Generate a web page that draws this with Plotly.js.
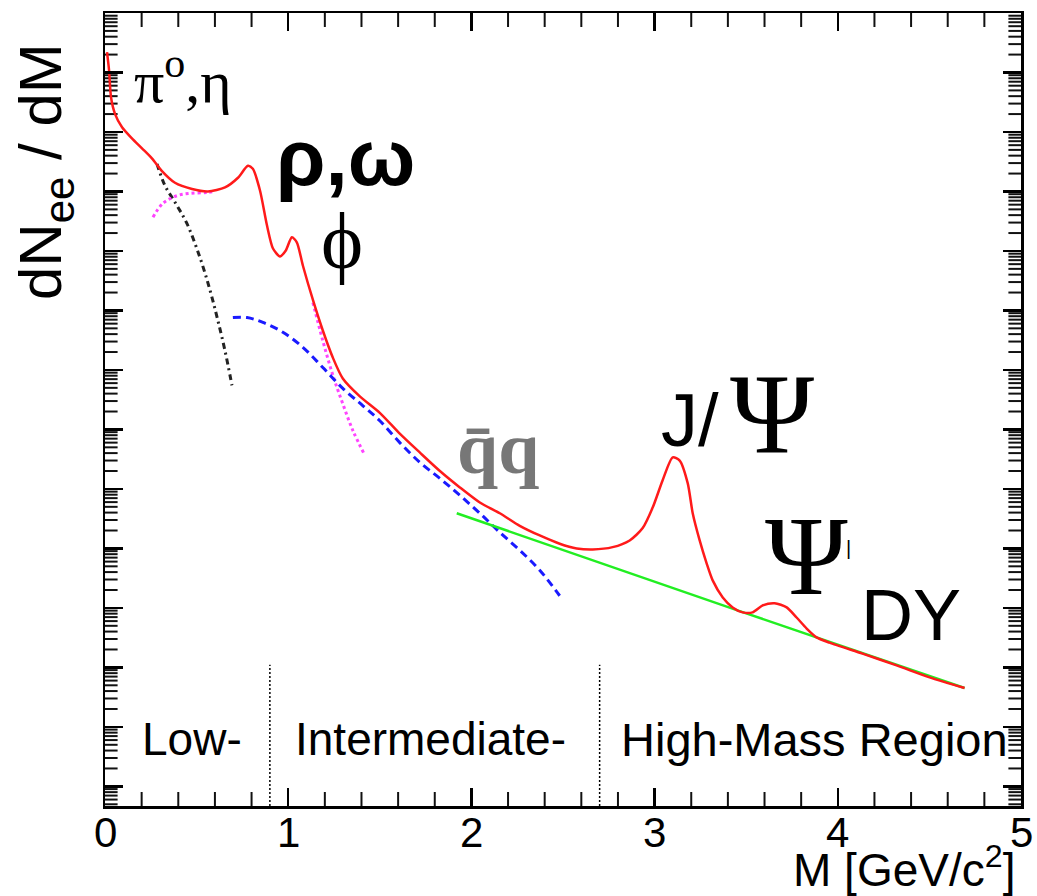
<!DOCTYPE html>
<html>
<head>
<meta charset="utf-8">
<script src="https://cdn.plot.ly/plotly-3.0.1.min.js"></script>
<style>html,body{margin:0;padding:0;background:#fff;}#chart{width:1037px;height:896px;}</style>
</head>
<body>
<div id="chart"></div>
<script>
// ---- data ----
const redM = [0.011,0.022,0.033,0.055,0.093,0.147,0.202,0.256,0.311,0.382,0.475,0.562,0.655,0.726,0.780,0.807,0.846,0.884,0.917,0.955,0.987,1.020,1.047,1.080,1.135,1.189,1.244,1.298,1.391,1.500,1.609,1.718,1.828,1.937,2.046,2.155,2.264,2.373,2.482,2.575,2.662,2.771,2.864,2.935,2.990,3.044,3.099,3.137,3.181,3.208,3.246,3.284,3.317,3.372,3.426,3.481,3.535,3.590,3.655,3.721,3.775,3.830,3.884,3.955,4.135,4.321,4.501,4.692];
const redY = [2.2e12,1.1e12,3.8e11,2.0e11,1.2e11,7.8e10,5.3e10,3.6e10,2.2e10,1.4e10,1.1e10,1.0e10,1.17e10,1.7e10,2.7e10,2.4e10,1.04e10,2.7e9,1.1e9,8.1e8,1.02e9,1.7e9,1.4e9,5.7e8,1.5e8,4.6e7,1.6e7,7.2e6,3.6e6,1.9e6,8.5e5,4.1e5,2.0e5,1.06e5,5.9e4,3.9e4,2.4e4,1.65e4,1.2e4,1.0e4,9.6e3,1.05e4,1.36e4,2.2e4,4.9e4,1.4e5,3.4e5,3.0e5,1.24e5,3.9e4,1.36e4,5.6e3,2.9e3,1.5e3,1.02e3,8.4e2,8.4e2,1.1e3,1.2e3,1.02e3,6.9e2,4.5e2,3.2e2,2.6e2,1.7e2,1.08e2,68,45];

const dalitzM = [0.284,0.327,0.382,0.447,0.518,0.573,0.616,0.655,0.693];
const dalitzY = [2.9e10,1.26e10,6.6e9,2.9e9,7.8e8,2.2e8,6.8e7,2.1e7,5.5e6];

const vmLowM = [0.262,0.316,0.393,0.464,0.556,0.600];
const vmLowY = [3.7e9,6.3e9,8.5e9,9.3e9,9.6e9,1.0e10];

const vmHighM = [1.135,1.189,1.244,1.298,1.353,1.418];
const vmHighY = [1.36e8,3.1e7,8.1e6,2.7e6,9.6e5,3.7e5];

const charmM = [0.698,0.775,0.862,0.971,1.080,1.189,1.298,1.408,1.500,1.609,1.718,1.828,1.937,2.046,2.155,2.264,2.373,2.482];
const charmY = [7.6e7,7.6e7,6.3e7,4.3e7,2.4e7,1.1e7,4.9e6,2.5e6,1.4e6,6.0e5,2.8e5,1.5e5,7.8e4,3.9e4,1.86e4,9.3e3,4.3e3,1.6e3];

const dyM = [1.920,2.662,3.500,4.692];
const dyY = [3.9e4,6.3e3,8.1e2,45];

const regionBounds = [0.9, 2.7];
const xTickVals = [0,1,2,3,4,5];
const xTickText = ['0','1','2','3','4','5'];

// ---- layout helpers ----
const L = 105, R = 1021, T = 13, B = 806;
const pxX = x => (x - L) / (R - L);
const pxY = y => (B - y) / (B - T);
const SANS = 'Liberation Sans, Arial, sans-serif';
const SERIF = 'Liberation Serif, Times New Roman, serif';
const X_RANGE = [0, 5];
const Y_RANGE = [-0.33, 13.0];

function ann(text, x, y, size, family, extra) {
  return Object.assign({
    text: text, xref: 'paper', yref: 'paper', x: pxX(x), y: pxY(y),
    xanchor: 'center', yanchor: 'middle', showarrow: false,
    font: {size: size, family: family, color: '#000'}
  }, extra || {});
}

// axis tick positions (styling only)
const xMinor = [];
for (let i = 0; i < 25; i++) { if (i % 5 !== 0) xMinor.push(i * 0.2); }
const yMajor = [], yMinor = [];
for (let k = -1; k <= 13; k++) {
  yMajor.push(Math.pow(10, k));
  for (let m = 2; m <= 9; m++) {
    const v = m * Math.pow(10, k);
    if (Math.log10(v) > Y_RANGE[0] && Math.log10(v) < Y_RANGE[1]) yMinor.push(v);
  }
}
const yBottom = Math.pow(10, Y_RANGE[0]);
const yTop = Math.pow(10, Y_RANGE[1]);

// minor tick marks drawn as line markers centred on the frame; the outer half is clipped by the plot area
function tickTrace(xs, ys, symbol, size) {
  return {x: xs, y: ys, mode: 'markers', cliponaxis: true, hoverinfo: 'skip',
    marker: {symbol: symbol, size: size, color: '#111', line: {color: '#111', width: 2}}};
}

const traces = [
  tickTrace(yMinor.map(() => X_RANGE[0]), yMinor, 'line-ew', 18),
  tickTrace(yMinor.map(() => X_RANGE[1]), yMinor, 'line-ew', 18),
  tickTrace(xMinor, xMinor.map(() => yBottom), 'line-ns', 20),
  tickTrace(xMinor, xMinor.map(() => yTop), 'line-ns', 20),
  {x: dalitzM, y: dalitzY, mode: 'lines', line: {color: '#222', width: 3, dash: '6px,4px,2px,4px', shape: 'spline'}},
  {x: vmLowM, y: vmLowY, mode: 'lines', line: {color: '#ff44ff', width: 3, dash: '3px,3px', shape: 'spline'}},
  {x: vmHighM, y: vmHighY, mode: 'lines', line: {color: '#ff44ff', width: 3, dash: '3px,3px', shape: 'spline'}},
  {x: charmM, y: charmY, mode: 'lines', line: {color: '#1a1aff', width: 3, dash: '8px,5px', shape: 'spline'}},
  {x: dyM, y: dyY, mode: 'lines', line: {color: '#22ee22', width: 2.5}},
  {x: redM, y: redY, mode: 'lines', line: {color: '#ff1a1a', width: 2.5, shape: 'spline', smoothing: 0.7}}
];

const shapes = regionBounds.map(b => ({
  type: 'line', xref: 'x', yref: 'paper', x0: b, x1: b, y0: 0, y1: 0.178,
  line: {color: '#000', width: 1.5, dash: '2px,2px'}
}));

const tickLabelAnns = xTickVals.map((v, i) => ({
  text: xTickText[i], xref: 'x', yref: 'paper', x: v, y: pxY(807),
  xanchor: 'center', yanchor: 'top', showarrow: false,
  font: {size: 42, family: SANS, color: '#000'}
}));

const annotations = tickLabelAnns.concat([
  ann('dN<sub>ee</sub> / dM', 45, 172, 60, SANS, {textangle: -90}),
  ann('M [GeV/c<sup>2</sup>]', 1017, 867, 46, SANS, {xanchor: 'right'}),
  ann('π<sup>o</sup>,η', 183, 78, 60, SERIF),
  ann('<b>ρ,ω</b>', 345, 157, 80, SANS),
  ann('ϕ', 342, 241, 80, SERIF),
  ann('<b>q̄q</b>', 498, 448, 74, SERIF, {font: {size: 74, family: SERIF, color: '#777'}}),
  ann('J/', 690, 420, 74, SANS),
  ann('Ψ', 772, 413, 114, SERIF),
  ann('Ψ', 806, 556, 112, SERIF),
  ann('|', 848, 548, 20, SANS),
  ann('DY', 911, 615, 72, SANS),
  ann('Low-', 192, 739, 46, SANS),
  ann('Intermediate-', 430, 739, 46, SANS),
  ann('High-Mass Region', 814, 739, 47, SANS)
]);

const axisCommon = {
  showline: true, linewidth: 2.5, linecolor: '#000', mirror: 'ticks',
  showgrid: false, zeroline: false, showticklabels: false,
  ticks: 'inside', tickcolor: '#000', tickmode: 'array'
};

const layout = {
  width: 1037, height: 896,
  margin: {l: L, r: 1037 - R, t: T, b: 896 - B, pad: 0},
  paper_bgcolor: '#fff', plot_bgcolor: '#fff',
  showlegend: false,
  xaxis: Object.assign({}, axisCommon, {range: X_RANGE, tickvals: xTickVals, ticklen: 18, tickwidth: 2.5}),
  yaxis: Object.assign({}, axisCommon, {type: 'log', range: Y_RANGE, tickvals: yMajor, ticklen: 18, tickwidth: 2.5}),
  shapes: shapes,
  annotations: annotations
};

Plotly.newPlot('chart', traces, layout, {staticPlot: true, displayModeBar: false});
</script>
</body>
</html>
